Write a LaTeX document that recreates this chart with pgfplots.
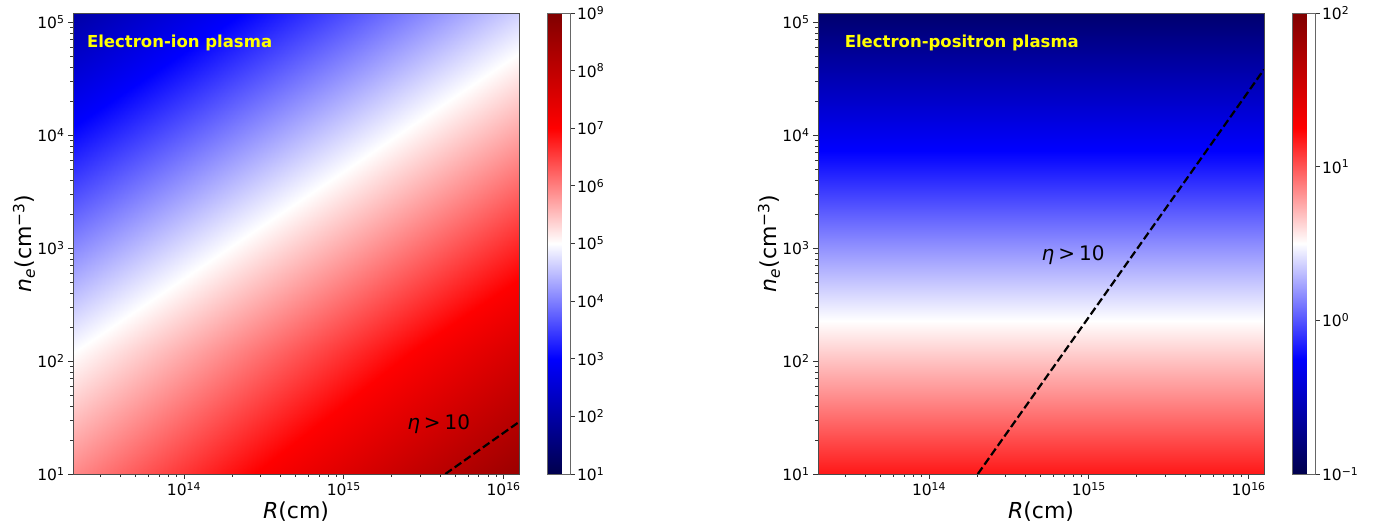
\documentclass[border=0pt]{standalone}
\usepackage{fontspec}
\setmainfont{DejaVu Sans}
\usepackage{pgfplots}
\usepackage{pgfplotstable}
\pgfplotsset{compat=1.18}
\pgfplotsset{colormap={seismic}{rgb=(0,0,0.3) rgb=(0,0,1) rgb=(1,1,1) rgb=(1,0,0) rgb=(0.5,0,0)}}

\pgfplotstableread{
R n c
2.018e13 10 5.922
7.31e13 10 6.452
2.64e14 10 6.982
9.55e14 10 7.512
3.46e15 10 8.044
1.25e16 10 8.573
2.018e13 118 5.000
7.31e13 118 5.530
2.64e14 118 6.060
9.55e14 118 6.590
3.46e15 118 7.122
1.25e16 118 7.651
2.018e13 1000 4.072
7.31e13 1000 4.602
2.64e14 1000 5.132
9.55e14 1000 5.662
3.46e15 1000 6.194
1.25e16 1000 6.723
2.018e13 10000 3.072
7.31e13 10000 3.602
2.64e14 10000 4.132
9.55e14 10000 4.662
3.46e15 10000 5.194
1.25e16 10000 5.723
2.018e13 1.21e5 1.989
7.31e13 1.21e5 2.519
2.64e14 1.21e5 3.049
9.55e14 1.21e5 3.579
3.46e15 1.21e5 4.111
1.25e16 1.21e5 4.640
}\lefttable

\pgfplotstableread{
R n c
2.018e13 10 1.18
1.25e16 10 1.18
2.018e13 31.6 0.93
1.25e16 31.6 0.93
2.018e13 100 0.68
1.25e16 100 0.68
2.018e13 316 0.43
1.25e16 316 0.43
2.018e13 1000 0.18
1.25e16 1000 0.18
2.018e13 3162 -0.07
1.25e16 3162 -0.07
2.018e13 10000 -0.32
1.25e16 10000 -0.32
2.018e13 31620 -0.57
1.25e16 31620 -0.57
2.018e13 1.21e5 -0.862
1.25e16 1.21e5 -0.862
}\righttable

\begin{document}
\begin{tikzpicture}
\useasboundingbox (0,0) rectangle (1384pt,527pt);
\begin{axis}[at={(73pt,53pt)}, anchor=south west,
    scale only axis, width=446pt, height=461pt,
    xmode=log, ymode=log,
    xmin=2.02e13, xmax=1.25e16, ymin=10, ymax=1.21e5,
    xtick={1e14,1e15,1e16},
    xticklabels={10\textsuperscript{14},10\textsuperscript{15},10\textsuperscript{16}},
    ytick={1e1,1e2,1e3,1e4,1e5},
    yticklabels={10\textsuperscript{1},10\textsuperscript{2},10\textsuperscript{3},10\textsuperscript{4},10\textsuperscript{5}},
    minor xtick={3e13,4e13,5e13,6e13,7e13,8e13,9e13,2e14,3e14,4e14,5e14,6e14,7e14,8e14,9e14,2e15,3e15,4e15,5e15,6e15,7e15,8e15,9e15},
    minor ytick={20,30,40,50,60,70,80,90,200,300,400,500,600,700,800,900,2000,3000,4000,5000,6000,7000,8000,9000,20000,30000,40000,50000,60000,70000,80000,90000},
    tick align=outside, tick pos=left,
    major tick length=5pt, minor tick length=3pt,
    every tick/.append style={black!80, line width=0.9pt},
    axis line style={black!70, line width=0.9pt},
    ticklabel style={font=\fontsize{15.5}{18}\selectfont},
    axis on top,
    colormap name=seismic,
    xlabel={\textit{R}(cm)},
    ylabel={\textit{n}\textsubscript{\textit{e}}(cm\textsuperscript{−3})},
    xlabel style={at={(axis description cs:0.5,0)}, anchor=center, yshift=-38pt, font=\fontsize{22}{26}\selectfont},
    ylabel style={at={(axis description cs:-0.1099,0.5)}, anchor=center, font=\fontsize{22}{26}\selectfont},
    point meta min=1, point meta max=9,
    colorbar,
    colorbar style={
      scale only axis, width=23pt, height=461pt,
      at={(parent axis.north east)}, anchor=north west, xshift=20pt,
      tick align=outside, ytick pos=right, yticklabel pos=right,
      major tick length=4pt,
      every tick/.append style={black!80, line width=0.9pt},
      yticklabel style={font=\fontsize{15.5}{18}\selectfont, xshift=-1pt},
      axis line style={black!60, line width=0.8pt},
      ytick={1,2,3,4,5,6,7,8,9},
      yticklabels={10\textsuperscript{1},10\textsuperscript{2},10\textsuperscript{3},10\textsuperscript{4},10\textsuperscript{5},10\textsuperscript{6},10\textsuperscript{7},10\textsuperscript{8},10\textsuperscript{9}}
    }]
\addplot[surf, shader=interp, mesh/cols=6, point meta=explicit] table[x=R, y=n, meta=c] {\lefttable};
\addplot[black, line width=2.2pt, dash pattern=on 8pt off 3.5pt] coordinates {(4.32e15,10) (1.25e16,28.9)};
\node[anchor=west, text={rgb,1:red,1;green,1;blue,0}, font=\bfseries\fontsize{16.5}{19}\selectfont] at (rel axis cs:0.0235,0.936) {Electron-ion plasma};
\node[anchor=base, font=\fontsize{20}{24}\selectfont] at (axis cs:3.93e15,24.6) {\textit{η}\hspace{0.2em}>\hspace{0.2em}10};
\end{axis}
\begin{axis}[at={(818pt,53pt)}, anchor=south west,
    scale only axis, width=446pt, height=461pt,
    xmode=log, ymode=log,
    xmin=2.02e13, xmax=1.25e16, ymin=10, ymax=1.21e5,
    xtick={1e14,1e15,1e16},
    xticklabels={10\textsuperscript{14},10\textsuperscript{15},10\textsuperscript{16}},
    ytick={1e1,1e2,1e3,1e4,1e5},
    yticklabels={10\textsuperscript{1},10\textsuperscript{2},10\textsuperscript{3},10\textsuperscript{4},10\textsuperscript{5}},
    minor xtick={3e13,4e13,5e13,6e13,7e13,8e13,9e13,2e14,3e14,4e14,5e14,6e14,7e14,8e14,9e14,2e15,3e15,4e15,5e15,6e15,7e15,8e15,9e15},
    minor ytick={20,30,40,50,60,70,80,90,200,300,400,500,600,700,800,900,2000,3000,4000,5000,6000,7000,8000,9000,20000,30000,40000,50000,60000,70000,80000,90000},
    tick align=outside, tick pos=left,
    major tick length=5pt, minor tick length=3pt,
    every tick/.append style={black!80, line width=0.9pt},
    axis line style={black!70, line width=0.9pt},
    ticklabel style={font=\fontsize{15.5}{18}\selectfont},
    axis on top,
    colormap name=seismic,
    xlabel={\textit{R}(cm)},
    ylabel={\textit{n}\textsubscript{\textit{e}}(cm\textsuperscript{−3})},
    xlabel style={at={(axis description cs:0.5,0)}, anchor=center, yshift=-38pt, font=\fontsize{22}{26}\selectfont},
    ylabel style={at={(axis description cs:-0.1099,0.5)}, anchor=center, font=\fontsize{22}{26}\selectfont},
    point meta min=-1, point meta max=2,
    colorbar,
    colorbar style={
      scale only axis, width=23pt, height=461pt,
      at={(parent axis.north east)}, anchor=north west, xshift=20pt,
      tick align=outside, ytick pos=right, yticklabel pos=right,
      major tick length=4pt,
      every tick/.append style={black!80, line width=0.9pt},
      yticklabel style={font=\fontsize{15.5}{18}\selectfont, xshift=-1pt},
      axis line style={black!60, line width=0.8pt},
      ytick={-1,0,1,2},
      yticklabels={10\textsuperscript{−1},10\textsuperscript{0},10\textsuperscript{1},10\textsuperscript{2}}
    }]
\addplot[surf, shader=interp, mesh/cols=2, point meta=explicit] table[x=R, y=n, meta=c] {\righttable};
\addplot[black, line width=2.2pt, dash pattern=on 8pt off 3.5pt] coordinates {(2.02e14,10) (1.25e16,38290)};
\node[anchor=west, text={rgb,1:red,1;green,1;blue,0}, font=\bfseries\fontsize{16.5}{19}\selectfont] at (rel axis cs:0.052,0.936) {Electron-positron plasma};
\node[anchor=base, font=\fontsize{20}{24}\selectfont] at (axis cs:7.98e14,785) {\textit{η}\hspace{0.2em}>\hspace{0.2em}10};
\end{axis}
\end{tikzpicture}
\end{document}
